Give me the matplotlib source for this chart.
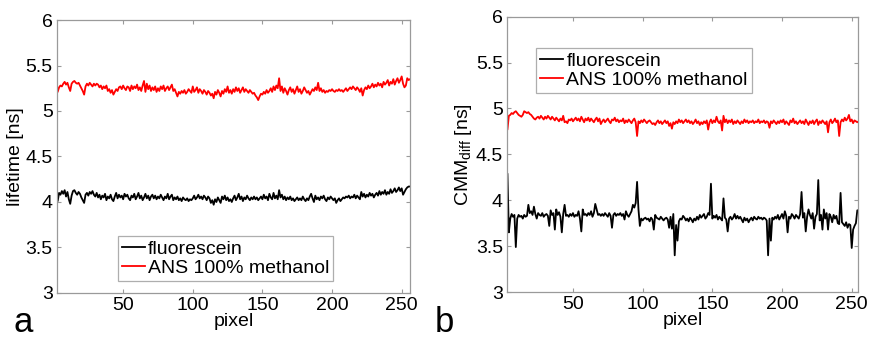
import matplotlib
matplotlib.use('Agg')
import matplotlib.pyplot as plt
import numpy as np
from matplotlib.ticker import FormatStrFormatter

plt.rcParams['font.family'] = ['Liberation Sans', 'DejaVu Sans']

# pixel index 1..256
pixel = np.arange(1, 257)

# panel a: lifetime [ns]
ans_a = [5.20, 5.20, 5.21, 5.26, 5.28, 5.27, 5.30, 5.32, 5.29, 5.31, 5.26, 5.22, 5.30, 5.32, 5.33, 5.31,
         5.30, 5.31, 5.28, 5.25, 5.22, 5.18, 5.27, 5.30, 5.28, 5.31, 5.29, 5.27, 5.30, 5.28, 5.30, 5.29,
         5.26, 5.28, 5.24, 5.27, 5.25, 5.28, 5.22, 5.24, 5.20, 5.23, 5.18, 5.21, 5.24, 5.22, 5.26, 5.27,
         5.24, 5.28, 5.25, 5.23, 5.27, 5.26, 5.22, 5.28, 5.24, 5.27, 5.25, 5.29, 5.23, 5.26, 5.22, 5.28,
         5.33, 5.21, 5.30, 5.24, 5.28, 5.22, 5.26, 5.23, 5.27, 5.21, 5.25, 5.22, 5.27, 5.24, 5.28, 5.22,
         5.25, 5.27, 5.23, 5.26, 5.29, 5.22, 5.24, 5.20, 5.16, 5.21, 5.19, 5.22, 5.20, 5.23, 5.19, 5.21,
         5.24, 5.22, 5.20, 5.27, 5.21, 5.23, 5.26, 5.20, 5.24, 5.22, 5.19, 5.23, 5.21, 5.18, 5.22, 5.20,
         5.17, 5.19, 5.14, 5.21, 5.18, 5.23, 5.20, 5.16, 5.22, 5.19, 5.24, 5.21, 5.27, 5.20, 5.23, 5.19,
         5.24, 5.21, 5.26, 5.22, 5.25, 5.20, 5.23, 5.26, 5.21, 5.24, 5.22, 5.20, 5.23, 5.21, 5.19, 5.20,
         5.17, 5.15, 5.12, 5.16, 5.19, 5.18, 5.21, 5.19, 5.23, 5.20, 5.22, 5.25, 5.21, 5.27, 5.23, 5.28,
         5.25, 5.36, 5.22, 5.27, 5.20, 5.25, 5.22, 5.18, 5.23, 5.26, 5.21, 5.24, 5.19, 5.23, 5.27, 5.21,
         5.24, 5.19, 5.22, 5.26, 5.23, 5.20, 5.22, 5.18, 5.21, 5.24, 5.22, 5.26, 5.23, 5.31, 5.22, 5.25,
         5.21, 5.23, 5.20, 5.22, 5.21, 5.23, 5.22, 5.24, 5.22, 5.21, 5.23, 5.22, 5.24, 5.22, 5.23, 5.21,
         5.23, 5.25, 5.22, 5.24, 5.26, 5.24, 5.27, 5.25, 5.23, 5.26, 5.24, 5.21, 5.25, 5.17, 5.23, 5.26,
         5.24, 5.28, 5.25, 5.27, 5.30, 5.26, 5.29, 5.27, 5.31, 5.28, 5.30, 5.26, 5.32, 5.29, 5.31, 5.34,
         5.28, 5.32, 5.30, 5.35, 5.29, 5.33, 5.36, 5.31, 5.34, 5.38, 5.30, 5.26, 5.28, 5.36, 5.34, 5.35]

fluo_a = [4.00, 4.00, 4.01, 4.10, 4.08, 4.12, 4.09, 4.13, 4.06, 4.11, 4.03, 3.98, 4.07, 4.12, 4.13, 4.10,
          4.08, 4.11, 4.09, 4.05, 4.02, 3.99, 4.08, 4.10, 4.07, 4.11, 4.09, 4.12, 4.08, 4.06, 4.10, 4.05,
          4.08, 4.03, 4.07, 4.05, 4.09, 4.02, 4.06, 4.04, 4.08, 4.03, 4.01, 4.06, 4.10, 4.04, 4.08, 4.05,
          4.07, 4.03, 4.09, 4.06, 4.08, 4.04, 4.02, 4.07, 4.05, 4.09, 4.03, 4.06, 4.10, 4.04, 4.07, 4.02,
          4.05, 4.09, 4.04, 4.07, 4.02, 4.06, 4.08, 4.04, 4.07, 4.03, 4.06, 4.04, 4.08, 4.05, 4.02, 4.06,
          4.04, 4.09, 4.03, 4.06, 4.08, 4.02, 4.05, 4.03, 4.06, 4.02, 4.04, 4.01, 4.05, 4.03, 4.02, 4.04,
          4.01, 4.03, 4.02, 4.04, 4.07, 4.03, 4.05, 4.08, 4.04, 4.06, 4.03, 4.07, 4.05, 4.02, 4.06, 4.04,
          3.99, 4.02, 3.97, 4.03, 4.00, 4.05, 4.02, 3.99, 4.06, 4.03, 4.07, 4.02, 4.05, 4.01, 4.03, 4.00,
          4.04, 4.07, 4.02, 4.05, 4.09, 4.03, 4.06, 4.01, 4.05, 4.03, 4.07, 4.04, 4.02, 4.05, 4.03, 4.06,
          4.03, 4.05, 4.02, 4.04, 4.06, 4.03, 4.08, 4.04, 4.06, 4.02, 4.09, 4.05, 4.03, 4.10, 4.04, 4.07,
          4.03, 4.13, 4.05, 4.08, 4.03, 4.06, 4.02, 4.05, 4.03, 4.06, 4.02, 4.04, 4.01, 4.03, 4.05, 4.02,
          4.04, 4.02, 4.06, 4.03, 4.01, 4.04, 4.02, 4.06, 4.09, 4.04, 4.00, 4.07, 4.03, 4.05, 4.02, 4.06,
          4.04, 4.07, 4.03, 4.01, 4.05, 4.03, 4.06, 4.04, 4.02, 4.04, 3.99, 4.02, 4.04, 4.01, 4.03, 4.05,
          4.04, 4.06, 4.05, 4.07, 4.04, 4.06, 4.05, 4.08, 4.04, 4.07, 4.05, 4.03, 4.11, 4.06, 4.09, 4.05,
          4.08, 4.06, 4.10, 4.07, 4.09, 4.05, 4.08, 4.10, 4.07, 4.12, 4.08, 4.11, 4.09, 4.13, 4.08, 4.11,
          4.09, 4.14, 4.10, 4.12, 4.15, 4.11, 4.13, 4.16, 4.12, 4.15, 4.08, 4.11, 4.14, 4.16, 4.17, 4.17]

# panel b: CMM_diff [ns]
ans_b = [4.77, 4.77, 4.77, 4.92, 4.93, 4.95, 4.94, 4.96, 4.97, 4.95, 4.93, 4.92, 4.91, 4.93, 4.97, 4.96,
         4.95, 4.96, 4.94, 4.93, 4.91, 4.89, 4.88, 4.90, 4.91, 4.89, 4.92, 4.90, 4.88, 4.91, 4.89, 4.92,
         4.90, 4.88, 4.91, 4.89, 4.87, 4.90, 4.88, 4.86, 4.89, 4.87, 4.92, 4.85, 4.86, 4.84, 4.88, 4.87,
         4.89, 4.86, 4.88, 4.90, 4.87, 4.89, 4.86, 4.91, 4.88, 4.85, 4.89, 4.87, 4.90, 4.86, 4.89, 4.87,
         4.85, 4.88, 4.90, 4.86, 4.89, 4.83, 4.86, 4.88, 4.85, 4.87, 4.89, 4.86, 4.84, 4.88, 4.87, 4.90,
         4.86, 4.88, 4.85, 4.87, 4.86, 4.89, 4.84, 4.87, 4.85, 4.88, 4.86, 4.84, 4.87, 4.89, 4.85, 4.70,
         4.86, 4.84, 4.87, 4.85, 4.88, 4.86, 4.84, 4.86, 4.87, 4.85, 4.83, 4.84, 4.82, 4.85, 4.87, 4.84,
         4.86, 4.83, 4.85, 4.87, 4.84, 4.86, 4.81, 4.84, 4.78, 4.85, 4.83, 4.86, 4.84, 4.88, 4.85, 4.87,
         4.84, 4.86, 4.88, 4.85, 4.87, 4.84, 4.86, 4.83, 4.85, 4.88, 4.84, 4.86, 4.82, 4.85, 4.83, 4.86,
         4.84, 4.87, 4.77, 4.85, 4.88, 4.84, 4.87, 4.85, 4.91, 4.86, 4.84, 4.87, 4.76, 4.92, 4.85, 4.88,
         4.84, 4.87, 4.85, 4.88, 4.83, 4.86, 4.84, 4.87, 4.85, 4.83, 4.86, 4.84, 4.88, 4.85, 4.87, 4.84,
         4.86, 4.85, 4.87, 4.84, 4.86, 4.85, 4.88, 4.84, 4.86, 4.85, 4.87, 4.84, 4.86, 4.85, 4.79, 4.86,
         4.84, 4.87, 4.85, 4.83, 4.86, 4.84, 4.87, 4.85, 4.88, 4.83, 4.86, 4.84, 4.82, 4.87, 4.85, 4.89,
         4.84, 4.86, 4.83, 4.85, 4.87, 4.84, 4.86, 4.83, 4.88, 4.85, 4.82, 4.86, 4.84, 4.87, 4.83, 4.86,
         4.88, 4.82, 4.86, 4.84, 4.87, 4.85, 4.83, 4.86, 4.74, 4.85, 4.88, 4.84, 4.86, 4.89, 4.85, 4.87,
         4.70, 4.85, 4.88, 4.86, 4.90, 4.87, 4.89, 4.93, 4.86, 4.88, 4.84, 4.87, 4.86, 4.85, 4.86, 4.86]

fluo_b = [3.80, 3.80, 4.29, 3.65, 3.80, 3.85, 3.82, 3.84, 3.49, 3.80, 3.84, 3.82, 3.83, 3.80, 3.84, 3.82,
          3.83, 3.95, 3.86, 3.88, 3.84, 3.93, 3.85, 3.80, 3.86, 3.84, 3.83, 3.86, 3.82, 3.84, 3.85, 3.83,
          3.72, 3.89, 3.84, 3.86, 3.68, 3.90, 3.84, 3.87, 3.82, 3.65, 3.85, 3.95, 3.83, 3.84, 3.82, 3.85,
          3.83, 3.86, 3.82, 3.84, 3.83, 3.88, 3.80, 3.66, 3.90, 3.84, 3.85, 3.83, 3.86, 3.84, 3.88, 3.82,
          3.86, 3.96, 3.90, 3.84, 3.85, 3.83, 3.85, 3.83, 3.86, 3.84, 3.82, 3.86, 3.83, 3.70, 3.84, 3.86,
          3.83, 3.85, 3.84, 3.86, 3.83, 3.85, 3.79, 3.88, 3.84, 3.82, 3.85, 3.88, 3.95, 3.92, 3.97, 4.20,
          3.90, 3.72, 3.80, 3.78, 3.80, 3.81, 3.79, 3.80, 3.77, 3.81, 3.79, 3.68, 3.84, 3.81, 3.80, 3.79,
          3.82, 3.80, 3.78, 3.80, 3.81, 3.79, 3.70, 3.82, 3.69, 3.85, 3.40, 3.73, 3.56, 3.77, 3.80, 3.79,
          3.83, 3.81, 3.78, 3.80, 3.77, 3.81, 3.79, 3.76, 3.80, 3.78, 3.82, 3.79, 3.84, 3.81, 3.83, 3.85,
          3.80, 3.82, 3.86, 3.84, 4.18, 3.80, 3.83, 3.81, 3.84, 3.79, 3.82, 3.80, 3.78, 4.02, 3.81, 3.79,
          3.66, 3.80, 3.82, 3.79, 3.81, 3.85, 3.80, 3.83, 3.80, 3.82, 3.79, 3.76, 3.81, 3.78, 3.80, 3.76,
          3.79, 3.81, 3.78, 3.82, 3.80, 3.79, 3.82, 3.80, 3.81, 3.79, 3.81, 3.80, 3.78, 3.40, 3.80, 3.56,
          3.81, 3.79, 3.82, 3.80, 3.84, 3.79, 3.82, 3.85, 3.80, 3.88, 3.83, 3.65, 3.82, 3.80, 3.85, 3.83,
          3.80, 3.84, 3.82, 3.80, 3.85, 4.09, 3.81, 3.86, 3.66, 3.82, 3.90, 3.84, 3.80, 3.86, 3.69, 3.82,
          3.85, 4.22, 3.78, 3.84, 3.68, 3.90, 3.80, 3.86, 3.68, 3.85, 3.82, 3.76, 3.84, 3.80, 3.83, 3.75,
          3.74, 4.08, 3.76, 3.74, 3.72, 3.76, 3.70, 3.74, 3.73, 3.48, 3.68, 3.72, 3.75, 3.89, 3.89, 3.89]

legend_labels = ['fluorescein', 'ANS 100% methanol']
xticks = [50, 100, 150, 200, 250]
yticks = [3, 3.5, 4, 4.5, 5, 5.5, 6]

FS = 14
GRAY = '#9a9a9a'

fig = plt.figure(figsize=(8.7, 3.39), dpi=100)
ax1 = fig.add_axes([0.0655, 0.1357, 0.4058, 0.8053])
ax2 = fig.add_axes([0.5828, 0.1386, 0.4034, 0.8121])


def style(ax, xlim):
    ax.set_xlim(*xlim)
    ax.set_ylim(3, 6)
    ax.set_xticks(xticks)
    ax.set_yticks(yticks)
    ax.yaxis.set_major_formatter(FormatStrFormatter('%g'))
    ax.tick_params(direction='in', top=True, right=True, length=3,
                   color=GRAY, labelsize=FS, pad=3)
    for s in ax.spines.values():
        s.set_color(GRAY)
        s.set_linewidth(0.9)
    ax.set_xlabel('pixel', fontsize=FS, labelpad=-1)


ax1.plot(pixel, fluo_a, color='black', lw=1.3, label=legend_labels[0])
ax1.plot(pixel, ans_a, color='red', lw=1.3, label=legend_labels[1])
style(ax1, (2.5, 256))
ax1.set_ylabel('lifetime [ns]', fontsize=FS, labelpad=1)
leg1 = ax1.legend(loc='lower left', bbox_to_anchor=(0.172, 0.044), fontsize=FS,
                  handlelength=1.2, handletextpad=0.15, borderpad=0.2,
                  labelspacing=0.1, fancybox=False, borderaxespad=0)
leg1.get_frame().set_edgecolor(GRAY)
leg1.get_frame().set_linewidth(0.9)

ax2.plot(pixel, fluo_b, color='black', lw=1.3, label=legend_labels[0])
ax2.plot(pixel, ans_b, color='red', lw=1.3, label=legend_labels[1])
style(ax2, (2.7, 254.5))
ax2.set_ylabel(r'CMM$_\mathregular{diff}$ [ns]', fontsize=FS, labelpad=1)
leg2 = ax2.legend(loc='upper left', bbox_to_anchor=(0.083, 0.886), fontsize=FS,
                  handlelength=1.2, handletextpad=0.15, borderpad=0.2,
                  labelspacing=0.1, fancybox=False, borderaxespad=0)
leg2.get_frame().set_edgecolor(GRAY)
leg2.get_frame().set_linewidth(0.9)

fig.text(0.016, 0.02, 'a', fontsize=25)
fig.text(0.5, 0.02, 'b', fontsize=25)

fig.savefig('out.png', dpi=100)
